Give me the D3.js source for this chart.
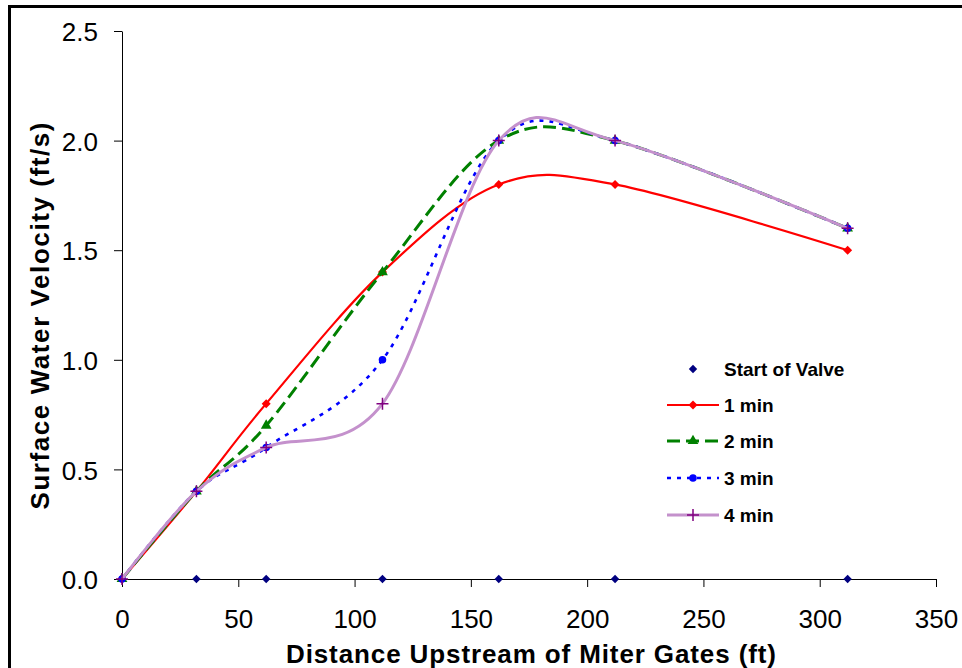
<!DOCTYPE html>
<html>
<head>
<meta charset="utf-8">
<script src="https://cdn.jsdelivr.net/npm/d3@7"></script>
<style>
  html, body { margin: 0; padding: 0; background: #fff; }
  svg { display: block; }
  text { font-family: "Liberation Sans", Arial, sans-serif; fill: #000; }
</style>
</head>
<body>
<svg id="chart" width="962" height="668"></svg>
<script>
// ---- data ----
const distances = [0, 32, 62, 112, 162, 212, 312];
const startOfValve = [0, 0, 0, 0, 0, 0, 0];
const min1 = [0, 0.4, 0.8, 1.4, 1.8, 1.8, 1.5];
const min2 = [0, 0.4, 0.7, 1.4, 2.0, 2.0, 1.6];
const min3 = [0, 0.4, 0.6, 1.0, 2.0, 2.0, 1.6];
const min4 = [0, 0.4, 0.6, 0.8, 2.0, 2.0, 1.6];
const seriesNames = ["Start of Valve", "1 min", "2 min", "3 min", "4 min"];
const xTicks = [0, 50, 100, 150, 200, 250, 300, 350];
const yTicks = [0, 0.5, 1.0, 1.5, 2.0, 2.5];
const xTitle = "Distance Upstream of Miter Gates (ft)";
const yTitle = "Surface Water Velocity (ft/s)";

const svg = d3.select("#chart");

// outer frame
svg.append("rect").attr("x", 9.5).attr("y", 6.5).attr("width", 1200).attr("height", 1200)
  .attr("fill", "none").attr("stroke", "#000").attr("stroke-width", 3);

const x = d3.scaleLinear().domain([0, 350]).range([122, 936]);
const y = d3.scaleLinear().domain([0, 2.5]).range([579, 31]);

// axes
const yAxis = d3.axisLeft(y).tickValues(yTicks).tickFormat(d3.format(".1f"))
  .tickSize(8).tickSizeOuter(0).tickPadding(16);
const xAxis = d3.axisBottom(x).tickValues(xTicks).tickFormat(d3.format("d"))
  .tickSize(8).tickSizeOuter(0).tickPadding(23);

const gy = svg.append("g").attr("transform", "translate(122,0)").call(yAxis);
const gx = svg.append("g").attr("transform", "translate(0,579)").call(xAxis);
[gx, gy].forEach(g => {
  g.selectAll("path.domain").attr("stroke", "#000").attr("stroke-width", 1);
  g.selectAll(".tick line").attr("stroke", "#000").attr("stroke-width", 1);
  g.selectAll(".tick text").style("font-size", "26px").attr("fill", "#000")
    .style("font-family", "'Liberation Sans', Arial, sans-serif");
});
gy.selectAll(".tick text").attr("dy", "0.37em");

// titles
svg.append("text").attr("x", 531).attr("y", 663).attr("text-anchor", "middle")
  .style("font-size", "26px").style("font-weight", "bold")
  .attr("textLength", 490).attr("lengthAdjust", "spacing").text(xTitle);
svg.append("text").attr("transform", "translate(49,316) rotate(-90)").attr("text-anchor", "middle")
  .style("font-size", "26px").style("font-weight", "bold")
  .attr("textLength", 387).attr("lengthAdjust", "spacing").text(yTitle);

// series definitions
const line = d3.line().x(d => x(d[0])).y(d => y(d[1])).curve(d3.curveCardinal.tension(0));
const zip = vals => distances.map((d, i) => [d, vals[i]]);

const series = [
  { name: seriesNames[1], vals: min1, color: "#FF0000", width: 2.2, dash: null,
    marker: "diamond", mcolor: "#FF0000", msize: 4.5 },
  { name: seriesNames[2], vals: min2, color: "#008000", width: 3, dash: "13,6",
    marker: "triangle", mcolor: "#008000", msize: 50 },
  { name: seriesNames[3], vals: min3, color: "#0000FF", width: 2.6, dash: "4,6",
    marker: "circle", mcolor: "#0000FF", msize: 45 },
  { name: seriesNames[4], vals: min4, color: "#C491CC", width: 3, dash: null,
    marker: "plus", mcolor: "#800080", msize: 0 },
];

function drawMarker(g, type, color, size, cx, cy) {
  if (type === "plus") {
    g.append("path").attr("d", `M${cx-6},${cy}H${cx+6}M${cx},${cy-6}V${cy+6}`)
      .attr("stroke", color).attr("stroke-width", 1.5).attr("fill", "none");
  } else if (type === "diamond") {
    const r = size;
    g.append("path").attr("d", `M${cx},${cy-r}L${cx+r},${cy}L${cx},${cy+r}L${cx-r},${cy}Z`)
      .attr("fill", color);
  } else {
    const sym = { triangle: d3.symbolTriangle, circle: d3.symbolCircle }[type];
    g.append("path").attr("d", d3.symbol().type(sym).size(size)())
      .attr("transform", `translate(${cx},${cy})`).attr("fill", color);
  }
}

// start of valve markers
const gs = svg.append("g");
zip(startOfValve).forEach(p => drawMarker(gs, "diamond", "#000080", 4.2, x(p[0]), y(p[1])));

series.forEach(s => {
  const g = svg.append("g");
  g.append("path").attr("d", line(zip(s.vals))).attr("fill", "none")
    .attr("stroke", s.color).attr("stroke-width", s.width)
    .attr("stroke-dasharray", s.dash).attr("stroke-linejoin", "round");
  zip(s.vals).forEach(p => drawMarker(g, s.marker, s.mcolor, s.msize, x(p[0]), y(p[1])));
});

// legend
const lg = svg.append("g");
const rowsY = [369, 405, 441, 478, 515];
const lx0 = 667, lx1 = 719, lxm = 693, ltx = 724;
drawMarker(lg, "diamond", "#000080", 4.2, lxm, rowsY[0]);
series.forEach((s, i) => {
  const yy = rowsY[i + 1];
  lg.append("line").attr("x1", lx0).attr("x2", lx1).attr("y1", yy).attr("y2", yy)
    .attr("stroke", s.color).attr("stroke-width", s.width).attr("stroke-dasharray", s.dash);
  drawMarker(lg, s.marker, s.mcolor, s.msize, lxm, yy);
});
seriesNames.forEach((n, i) => {
  lg.append("text").attr("x", ltx).attr("y", rowsY[i]).attr("dy", "0.36em")
    .style("font-size", "19px").style("font-weight", "bold").text(n);
});
</script>
</body>
</html>
